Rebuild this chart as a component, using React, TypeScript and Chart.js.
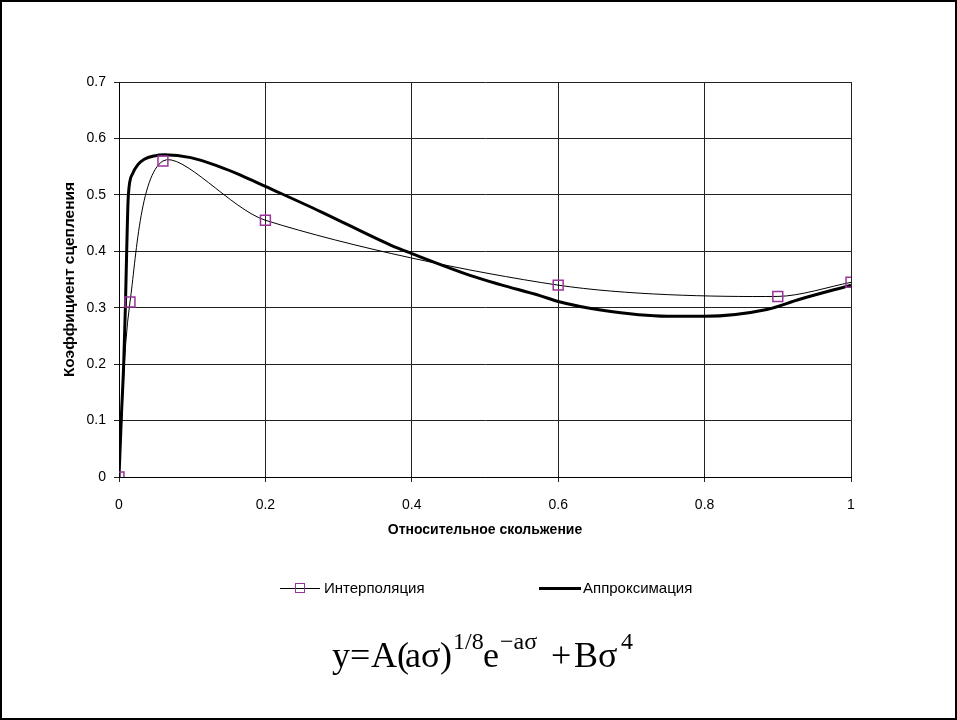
import React, { useEffect, useRef } from "react";
import { Chart, registerables } from "chart.js";

Chart.register(...registerables);

// ---- data ----
const xTickLabels = ["0", "0.2", "0.4", "0.6", "0.8", "1"];
const yTickLabels = ["0", "0.1", "0.2", "0.3", "0.4", "0.5", "0.6", "0.7"];

const interpSigma = [0, 0.015, 0.06, 0.2, 0.6, 0.9, 1.0];
const interpValue = [0, 0.31, 0.56, 0.455, 0.34, 0.32, 0.345];

const approxSigma = [
  0, 0.003, 0.0064, 0.0087, 0.0105, 0.0127, 0.0187, 0.0255, 0.0345, 0.048,
  0.062, 0.098, 0.137, 0.166, 0.2, 0.276, 0.371, 0.4, 0.485, 0.521, 0.576,
  0.6, 0.658, 0.749, 0.8, 0.885, 0.93, 1.0,
];
const approxValue = [
  0, 0.1, 0.2, 0.3, 0.4, 0.498, 0.538, 0.553, 0.563, 0.569, 0.571, 0.566,
  0.55, 0.535, 0.515, 0.47, 0.411, 0.396, 0.355, 0.341, 0.321, 0.311, 0.296,
  0.285, 0.285, 0.297, 0.315, 0.34,
];

const seriesNames = ["Интерполяция", "Аппроксимация"];
const xTitle = "Относительное скольжение";
const yTitle = "Коэффициент сцепления";

// formula pieces: [text, isSuperscript]
const formulaPieces: [string, boolean][] = [
  ["y", false],
  ["=", false],
  ["A", false],
  ["(", false],
  ["aσ", false],
  [")", false],
  ["1/8", true],
  ["e", false],
  ["−aσ", true],
  ["+", false],
  ["B", false],
  ["σ", false],
  ["4", true],
];
const formulaLefts = [332, 350, 371, 397, 405, 440, 453, 483, 500, 551, 574, 598, 621];

const MARKER = "#993399";
const FONT = "'Liberation Sans', Arial, sans-serif";
const SERIF = "'Liberation Serif', 'Times New Roman', serif";

export default function App() {
  const canvasRef = useRef<HTMLCanvasElement | null>(null);

  useEffect(() => {
    const canvas = canvasRef.current;
    if (!canvas) return;
    const tickFont = { family: FONT, size: 14 };
    const titleFont = { family: FONT, size: 14, weight: "bold" as const };
    const yTitleFont = { family: FONT, size: 15.5, weight: "bold" as const };
    const chart = new Chart(canvas, {
      type: "scatter",
      data: {
        datasets: [
          {
            label: seriesNames[0],
            data: interpSigma.map((s, i) => ({ x: s, y: interpValue[i] })),
            showLine: true,
            borderColor: "#000",
            borderWidth: 1,
            tension: 0.3,
            pointStyle: "rect",
            pointRadius: 7,
            pointBorderColor: MARKER,
            pointBorderWidth: 1.5,
            pointBackgroundColor: "rgba(0,0,0,0)",
          },
          {
            label: seriesNames[1],
            data: approxSigma.map((s, i) => ({ x: s, y: approxValue[i] })),
            showLine: true,
            borderColor: "#000",
            borderWidth: 3,
            cubicInterpolationMode: "monotone",
            pointRadius: 0,
          },
        ],
      },
      options: {
        animation: false,
        responsive: false,
        maintainAspectRatio: false,
        layout: { padding: { left: 60, top: 82, right: 106, bottom: 181 } },
        plugins: { legend: { display: false }, tooltip: { enabled: false } },
        scales: {
          x: {
            type: "linear",
            min: 0,
            max: 1,
            ticks: {
              stepSize: 0.2,
              color: "#000",
              font: tickFont,
              padding: 15,
              maxRotation: 0,
              callback: (_v: any, i: number) => xTickLabels[i],
            },
            grid: { color: "#222", tickLength: 5, lineWidth: 1 },
            border: { color: "#000", width: 1 },
            title: {
              display: true,
              text: xTitle,
              color: "#000",
              font: titleFont,
              padding: { top: 0, bottom: 0 },
            },
            afterFit: (s: any) => {
              s.height = 62;
            },
          },
          y: {
            type: "linear",
            min: 0,
            max: 0.7,
            ticks: {
              stepSize: 0.1,
              color: "#000",
              font: tickFont,
              padding: 8,
              callback: (_v: any, i: number) => yTickLabels[i],
            },
            grid: { color: "#222", tickLength: 5, lineWidth: 1 },
            border: { color: "#000", width: 1 },
            title: {
              display: true,
              text: yTitle,
              color: "#000",
              font: yTitleFont,
              padding: { top: 0, bottom: 0 },
            },
            afterFit: (s: any) => {
              s.width = 59;
            },
          },
        },
      },
    });
    return () => chart.destroy();
  }, []);

  const legendText: React.CSSProperties = {
    position: "absolute",
    top: 579,
    fontFamily: FONT,
    fontSize: 15,
    lineHeight: "18px",
    color: "#000",
    whiteSpace: "nowrap",
  };

  // baseline placement: for line-height = font-size, baseline ≈ top + 0.8375*size
  const mainSize = 36;
  const supSize = 24;
  const mainBaseline = 667;
  const supBaseline = 649;

  return (
    <div
      style={{
        position: "absolute",
        left: 0,
        top: 0,
        width: 957,
        height: 720,
        background: "#fff",
        overflow: "hidden",
      }}
    >
      <canvas
        ref={canvasRef}
        width={957}
        height={720}
        style={{ position: "absolute", left: 0, top: 0, width: 957, height: 720 }}
      />
      {/* legend */}
      <div style={{ position: "absolute", left: 280, top: 588, width: 40, height: 1, background: "#000" }} />
      <div
        style={{
          position: "absolute",
          left: 295,
          top: 583,
          width: 10,
          height: 10,
          boxSizing: "border-box",
          border: `1.5px solid ${MARKER}`,
        }}
      />
      <div style={{ ...legendText, left: 324 }}>{seriesNames[0]}</div>
      <div style={{ position: "absolute", left: 539, top: 587, width: 42, height: 3, background: "#000" }} />
      <div style={{ ...legendText, left: 583 }}>{seriesNames[1]}</div>
      {/* formula */}
      {formulaPieces.map(([txt, isSup], i) => {
        const size = isSup ? supSize : mainSize;
        const base = isSup ? supBaseline : mainBaseline;
        return (
          <span
            key={i}
            style={{
              position: "absolute",
              left: formulaLefts[i],
              top: base - 0.8375 * size,
              fontFamily: SERIF,
              fontSize: size,
              lineHeight: `${size}px`,
              color: "#000",
              whiteSpace: "nowrap",
            }}
          >
            {txt}
          </span>
        );
      })}
      {/* outer frame */}
      <div
        style={{
          position: "absolute",
          left: 0,
          top: 0,
          width: 957,
          height: 720,
          boxSizing: "border-box",
          border: "2px solid #000",
          pointerEvents: "none",
        }}
      />
    </div>
  );
}
